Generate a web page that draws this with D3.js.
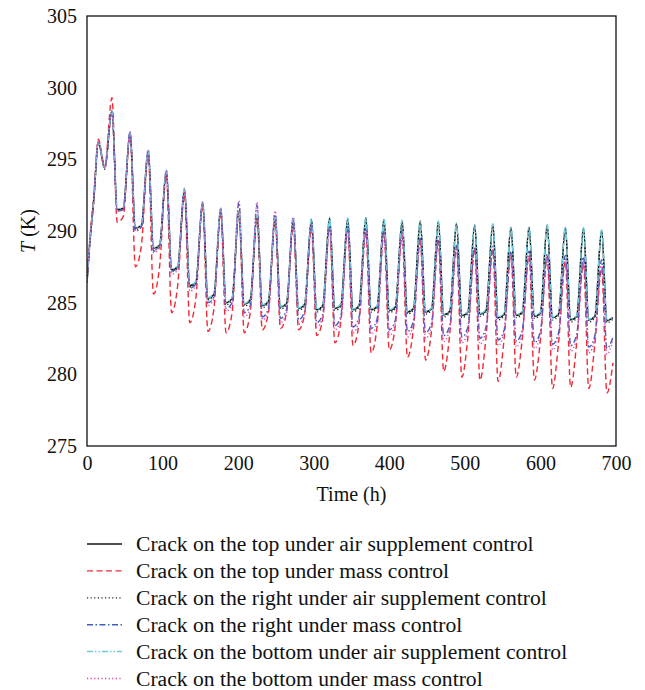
<!DOCTYPE html>
<html>
<head>
<meta charset="utf-8">
<script src="https://cdn.jsdelivr.net/npm/d3@7"></script>
<style>
  html, body { margin: 0; padding: 0; background: #fff; }
  svg { display: block; }
  text { font-family: "Liberation Serif", "Times New Roman", serif; fill: #111; }
</style>
</head>
<body>
<svg id="chart" width="645" height="690"></svg>
<script>
// Warm-up phase sample hours, then one peak per day
const warmHours = [0, 3, 9, 15, 23.5];
const peakHours = d3.range(28).map(k => 33 + 24 * k);
const lowOffset = 7;     // hours after each peak: bottom of the night dip
const recOffset = 15;    // hours after each peak: end of the dip, start of the rise

const xTicks = [0, 100, 200, 300, 400, 500, 600, 700];
const yTicks = [275, 280, 285, 290, 295, 300, 305];

const seriesNames = [
  "Crack on the top under air supplement control",
  "Crack on the top under mass control",
  "Crack on the right under air supplement control",
  "Crack on the right under mass control",
  "Crack on the bottom under air supplement control",
  "Crack on the bottom under mass control"
];

// Top, air supplement control
const topAirWarm = [286.4, 288.7, 292.2, 296.2, 294.4];
const topAirPeak = [298.4, 296.9, 295.6, 294.2, 292.9, 292.0, 291.5, 291.3, 291.0, 290.9, 290.8, 290.8, 290.9, 290.85, 290.9, 290.8, 290.7, 290.7, 290.65, 290.5, 290.4, 290.45, 290.25, 290.25, 290.4, 290.25, 290.2, 290.05];
const topAirLow  = [291.5, 290.2, 288.8, 287.3, 286.2, 285.3, 285.0, 284.9, 284.8, 284.7, 284.6, 284.5, 284.6, 284.5, 284.5, 284.45, 284.35, 284.35, 284.15, 284.1, 284.2, 283.95, 284.1, 284.05, 283.95, 283.8, 283.8, 283.75];
const topAirRec  = [291.6, 290.4, 289.0, 287.5, 286.4, 285.6, 285.3, 285.2, 285.1, 284.95, 284.9, 284.8, 284.85, 284.8, 284.75, 284.7, 284.6, 284.6, 284.4, 284.35, 284.45, 284.2, 284.35, 284.3, 284.2, 284.05, 284.05, 283.95];

// Top, mass control
const topMassWarm = [286.4, 288.9, 292.5, 296.4, 294.5];
const topMassPeak = [299.3, 296.8, 295.4, 293.9, 292.5, 291.8, 291.3, 291.4, 291.1, 290.7, 290.4, 290.2, 290.3, 290.1, 290.0, 289.9, 289.7, 289.5, 289.3, 289.0, 288.8, 288.7, 288.4, 288.3, 288.2, 287.9, 287.7, 287.4];
const topMassLow  = [290.6, 287.5, 285.6, 284.3, 283.6, 283.0, 282.9, 282.9, 283.1, 283.2, 283.1, 282.7, 282.2, 282.0, 281.5, 281.7, 281.2, 281.0, 280.2, 279.8, 279.6, 279.5, 279.8, 279.6, 279.0, 279.1, 279.0, 278.7];
const topMassRec  = [291.0, 289.0, 287.5, 286.2, 285.3, 284.6, 284.3, 284.3, 284.3, 284.3, 284.2, 283.9, 283.7, 283.6, 283.4, 283.4, 283.2, 283.1, 282.8, 282.6, 282.6, 282.5, 282.5, 282.4, 282.2, 282.2, 282.1, 280.8];

// Right, air supplement control
const rightAirWarm = [286.4, 288.6, 292.1, 296.1, 294.3];
const rightAirPeak = [298.3, 296.8, 295.5, 294.1, 292.8, 291.9, 291.5, 291.3, 291.0, 290.85, 290.75, 290.75, 290.85, 290.8, 290.85, 290.75, 290.65, 290.65, 290.6, 290.45, 290.35, 290.4, 290.2, 290.2, 290.35, 290.2, 290.15, 290.0];
const rightAirLow  = [291.4, 290.1, 288.7, 287.2, 286.1, 285.2, 284.85, 284.75, 284.65, 284.55, 284.45, 284.35, 284.45, 284.35, 284.35, 284.3, 284.2, 284.2, 284.0, 283.95, 284.05, 283.8, 283.95, 283.9, 283.8, 283.65, 283.65, 283.6];
const rightAirRec  = [291.5, 290.3, 288.9, 287.4, 286.3, 285.5, 285.2, 285.1, 285.0, 284.85, 284.8, 284.7, 284.75, 284.7, 284.65, 284.6, 284.5, 284.5, 284.3, 284.25, 284.35, 284.1, 284.25, 284.2, 284.1, 283.95, 283.95, 283.85];

// Right, mass control
const rightMassWarm = [286.4, 288.7, 292.2, 296.2, 294.4];
const rightMassPeak = [298.3, 296.9, 295.6, 294.2, 292.9, 292.0, 291.5, 292.0, 291.8, 291.3, 291.0, 290.6, 290.4, 290.3, 290.2, 290.0, 290.1, 289.5, 289.6, 289.0, 288.9, 288.9, 288.6, 288.6, 288.4, 288.3, 288.2, 288.0];
const rightMassLow  = [291.4, 290.0, 288.6, 287.2, 286.0, 285.0, 284.6, 284.3, 284.0, 283.9, 283.8, 283.6, 283.4, 283.3, 283.2, 283.1, 283.0, 282.9, 282.7, 282.6, 282.5, 282.4, 282.3, 282.2, 282.1, 282.0, 281.9, 281.8];
const rightMassRec  = [291.5, 290.3, 288.9, 287.4, 286.3, 285.4, 285.0, 284.8, 284.6, 284.5, 284.4, 284.2, 284.1, 284.0, 283.9, 283.8, 283.7, 283.6, 283.4, 283.3, 283.3, 283.1, 283.1, 283.0, 282.9, 282.8, 282.7, 282.6];

// Bottom, air supplement control
const bottomAirWarm = [286.4, 288.7, 292.3, 296.2, 294.4];
const bottomAirPeak = [298.4, 296.9, 295.7, 294.3, 293.0, 292.05, 291.6, 291.4, 291.1, 290.95, 290.85, 290.85, 290.95, 290.9, 290.95, 290.85, 290.75, 290.75, 290.7, 290.55, 290.45, 290.5, 290.3, 290.3, 290.45, 290.3, 290.25, 290.1];
const bottomAirLow  = [291.55, 290.25, 288.85, 287.35, 286.25, 285.35, 285.05, 284.95, 284.85, 284.75, 284.65, 284.55, 284.65, 284.55, 284.55, 284.5, 284.4, 284.4, 284.2, 284.15, 284.25, 284.0, 284.15, 284.1, 284.0, 283.85, 283.85, 283.8];
const bottomAirRec  = [291.65, 290.45, 289.05, 287.55, 286.45, 285.65, 285.35, 285.25, 285.15, 285.0, 284.95, 284.85, 284.9, 284.85, 284.8, 284.75, 284.65, 284.65, 284.45, 284.4, 284.5, 284.25, 284.4, 284.35, 284.25, 284.1, 284.1, 284.0];

// Bottom, mass control
const bottomMassWarm = [286.4, 288.8, 292.3, 296.3, 294.4];
const bottomMassPeak = [298.3, 296.9, 295.6, 294.2, 292.9, 292.0, 291.6, 292.1, 292.0, 291.4, 290.9, 290.5, 290.2, 290.1, 290.0, 289.8, 289.8, 289.3, 289.3, 288.8, 288.7, 288.6, 288.4, 288.3, 288.2, 288.0, 287.9, 287.7];
const bottomMassLow  = [291.4, 290.0, 288.5, 287.0, 285.8, 284.8, 284.4, 284.0, 283.8, 283.6, 283.5, 283.3, 283.1, 282.9, 282.8, 282.7, 282.6, 282.5, 282.3, 282.2, 282.1, 282.0, 281.9, 281.8, 281.7, 281.6, 281.5, 281.4];
const bottomMassRec  = [291.5, 290.3, 288.8, 287.3, 286.2, 285.3, 284.9, 284.6, 284.4, 284.3, 284.2, 284.0, 283.9, 283.8, 283.7, 283.6, 283.5, 283.4, 283.2, 283.1, 283.1, 283.0, 282.9, 282.8, 282.7, 282.6, 282.5, 282.4];

const seriesData = [
  [topAirWarm, topAirPeak, topAirLow, topAirRec],
  [topMassWarm, topMassPeak, topMassLow, topMassRec],
  [rightAirWarm, rightAirPeak, rightAirLow, rightAirRec],
  [rightMassWarm, rightMassPeak, rightMassLow, rightMassRec],
  [bottomAirWarm, bottomAirPeak, bottomAirLow, bottomAirRec],
  [bottomMassWarm, bottomMassPeak, bottomMassLow, bottomMassRec]
];

const styles = [
  { color: "#111111", dash: null,                   width: 1.5 },
  { color: "#ee2a36", dash: "6,3.5",                width: 1.4 },
  { color: "#222222", dash: "1.2,2.4",              width: 1.3 },
  { color: "#3f5fbf", dash: "6,2.5,1.5,2.5",        width: 1.4 },
  { color: "#6cccdc", dash: "6,2,1.5,2,1.5,2",      width: 1.5 },
  { color: "#d646b4", dash: "1.2,2.4",              width: 1.4 }
];

// Assemble [hour, T] pairs for each series
function buildPoints([warm, peak, low, rec]) {
  const pts = warmHours.map((h, i) => [h, warm[i]]);
  peakHours.forEach((p, k) => {
    pts.push([p, peak[k]]);
    pts.push([p + lowOffset, low[k]]);
    pts.push([p + recOffset, rec[k]]);
  });
  return pts;
}

const svg = d3.select("#chart");
const x = d3.scaleLinear().domain([0, 700]).range([87, 616]);
const y = d3.scaleLinear().domain([275, 305]).range([446, 16]);

const line = d3.line()
  .x(d => x(d[0]))
  .y(d => y(d[1]))
  .curve(d3.curveMonotoneX);

svg.append("defs").append("clipPath").attr("id", "plotClip")
  .append("rect").attr("x", 87).attr("y", 16).attr("width", 529).attr("height", 430);

const plot = svg.append("g").attr("clip-path", "url(#plotClip)");
seriesData.forEach((s, i) => {
  plot.append("path")
    .datum(buildPoints(s))
    .attr("d", line)
    .attr("fill", "none")
    .attr("stroke", styles[i].color)
    .attr("stroke-width", styles[i].width)
    .attr("stroke-dasharray", styles[i].dash)
    .attr("stroke-linejoin", "round");
});

// Frame
svg.append("rect")
  .attr("x", 87).attr("y", 16).attr("width", 529).attr("height", 430)
  .attr("fill", "none").attr("stroke", "#111").attr("stroke-width", 1.3);

// Axes (labels only, no tick marks)
const xAxis = d3.axisBottom(x).tickValues(xTicks).tickSize(0).tickPadding(10).tickFormat(d3.format("d"));
const yAxis = d3.axisLeft(y).tickValues(yTicks).tickSize(0).tickPadding(10).tickFormat(d3.format("d"));

const gx = svg.append("g").attr("transform", "translate(0,446)").call(xAxis);
const gy = svg.append("g").attr("transform", "translate(87,0)").call(yAxis);
[gx, gy].forEach(g => {
  g.select(".domain").remove();
  g.selectAll("text")
    .attr("font-family", "Liberation Serif, Times New Roman, serif")
    .attr("font-size", 20)
    .attr("fill", "#111");
});

svg.append("text")
  .attr("x", 351.5).attr("y", 501)
  .attr("text-anchor", "middle")
  .attr("font-size", 20)
  .text("Time (h)");

const yl = svg.append("text")
  .attr("transform", "translate(35,231) rotate(-90)")
  .attr("text-anchor", "middle")
  .attr("font-size", 20);
yl.append("tspan").attr("font-style", "italic").text("T");
yl.append("tspan").text(" (K)");

// Legend
const legend = svg.append("g");
seriesNames.forEach((name, i) => {
  const ly = 544 + 26.9 * i;
  legend.append("line")
    .attr("x1", 87).attr("x2", 122).attr("y1", ly).attr("y2", ly)
    .attr("stroke", styles[i].color)
    .attr("stroke-width", styles[i].width)
    .attr("stroke-dasharray", styles[i].dash);
  legend.append("text")
    .attr("x", 136).attr("y", ly + 7)
    .attr("font-size", 21.6)
    .text(name);
});
</script>
</body>
</html>
